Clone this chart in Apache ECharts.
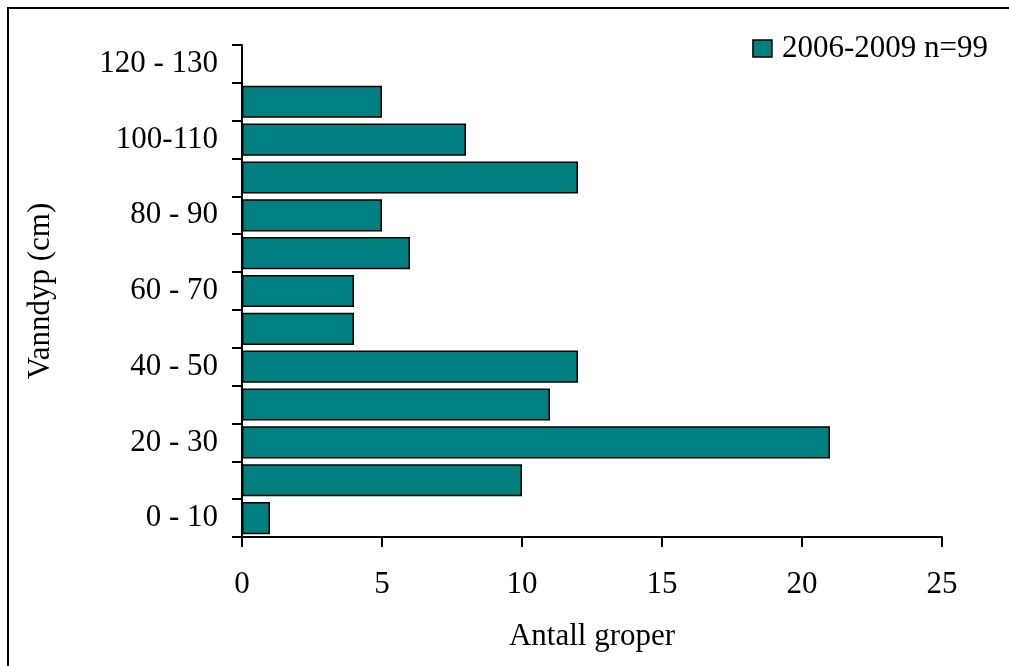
<!DOCTYPE html>
<html>
<head>
<meta charset="utf-8">
<script src="https://cdn.jsdelivr.net/npm/echarts@6/dist/echarts.min.js"></script>
<style>
html,body{margin:0;padding:0;background:#fff;}
#chart{width:1009px;height:666px;}
</style>
</head>
<body>
<div id="chart"></div>
<script>
const categories = ['0 - 10','10 - 20','20 - 30','30 - 40','40 - 50','50 - 60','60 - 70','70 - 80','80 - 90','90 - 100','100-110','110-120','120 - 130'];
const counts = [1, 10, 21, 11, 12, 4, 4, 6, 5, 12, 8, 5, 0];
const seriesName = '2006-2009 n=99';
const xTitle = 'Antall groper';
const yTitle = 'Vanndyp (cm)';

const font = '"Liberation Serif", "Times New Roman", serif';
const fs = 31;
const chart = echarts.init(document.getElementById('chart'));
chart.setOption({
  animation: false,
  backgroundColor: '#fff',
  textStyle: { fontFamily: font, color: '#000' },
  graphic: [{
    type: 'rect',
    shape: { x: 8, y: 8, width: 1020, height: 680 },
    style: { fill: 'none', stroke: '#000', lineWidth: 2 },
    silent: true
  }],
  legend: {
    right: 16, top: 28,
    itemWidth: 19, itemHeight: 17, itemGap: 10,
    textStyle: { fontFamily: font, fontSize: fs, color: '#000', padding: [0, 0, 0, 5] },
    data: [{ name: seriesName, icon: 'rect', itemStyle: { color: '#008080', borderColor: '#000', borderWidth: 1.5 } }]
  },
  grid: { left: 242, right: 67, top: 45, bottom: 129 },
  xAxis: {
    type: 'value', min: 0, max: 25, interval: 5,
    name: xTitle, nameLocation: 'middle', nameGap: 84,
    nameTextStyle: { fontFamily: font, fontSize: fs, color: '#000' },
    axisLine: { show: true, lineStyle: { color: '#000', width: 2 } },
    axisTick: { show: true, inside: false, length: 10, lineStyle: { color: '#000', width: 2 } },
    axisLabel: { fontFamily: font, fontSize: fs, color: '#000', margin: 32 },
    splitLine: { show: false }
  },
  yAxis: {
    type: 'category', data: categories,
    name: yTitle, nameLocation: 'middle', nameGap: 186,
    nameTextStyle: { fontFamily: font, fontSize: fs, color: '#000' },
    axisLine: { show: true, lineStyle: { color: '#000', width: 2 } },
    axisTick: { show: true, interval: 0, inside: false, length: 10, lineStyle: { color: '#000', width: 2 } },
    axisLabel: { interval: 1, fontFamily: font, fontSize: fs, color: '#000', margin: 24 },
    splitLine: { show: false }
  },
  series: [{
    name: seriesName,
    type: 'bar',
    data: counts,
    barCategoryGap: '15%',
    itemStyle: { color: '#008080', borderColor: '#000', borderWidth: 1.5 }
  }]
});
</script>
</body>
</html>
